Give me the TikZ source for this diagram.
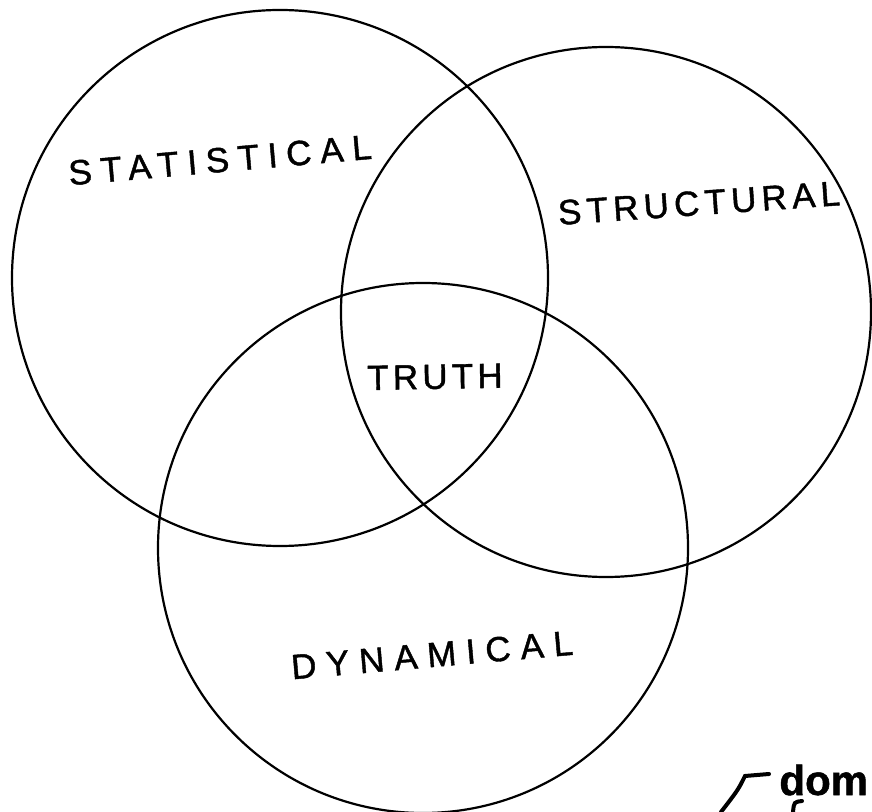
\documentclass[tikz,border=0pt]{standalone}
\usepackage{fontspec}
\setmainfont[FakeBold=1.2]{Liberation Sans}
\usetikzlibrary{positioning}
\newcommand\spaced[2]{{\addfontfeatures{LetterSpace=#1}#2}}
\tikzset{
  setline/.style={line width=1.1pt},
  caps/.style={font=\fontsize{17.5}{20}\selectfont, inner sep=0pt},
  note/.style={font=\fontsize{21}{24}\selectfont\bfseries, inner sep=0pt},
}

\begin{document}
\begin{tikzpicture}[x=0.5pt,y=-0.5pt]
        \useasboundingbox (0,0) rectangle (872,812);
        % the three sets
        \coordinate (stat) at (280,278);
        \coordinate (struc) at (606,312);
        \coordinate (dyn) at (423,548);
        \draw[setline] (stat) circle [radius=268];
        \draw[setline] (struc) circle [radius=265];
        \draw[setline] (dyn) circle [radius=265];
        % labels
        \node[caps, rotate=5] (statlabel) at (220,160) {\spaced{25}{STATISTICAL}};
        \node[caps, rotate=4] (struclabel) at (699,203) {\spaced{15}{STRUCTURAL}};
        \node[caps, rotate=1] (truthlabel) at (435,377) {\spaced{12}{TRUTH}};
        \node[caps, rotate=5] (dynlabel) at (432,655) {\spaced{28}{DYNAMICAL}};
        % note at the corner
        \node[note, anchor=base west] (dom) at (779,795) {dom};
        \coordinate (brtop) at (769,774);
        \coordinate (brfoot) at (721,812);
        \draw[line width=2pt, line cap=round] (brtop) -- (745,776) .. controls (738,790) .. (brfoot);
        \draw[line width=2pt, line cap=round] (802,801) .. controls (794,802) .. (793,812);
    \end{tikzpicture}
\end{document}
